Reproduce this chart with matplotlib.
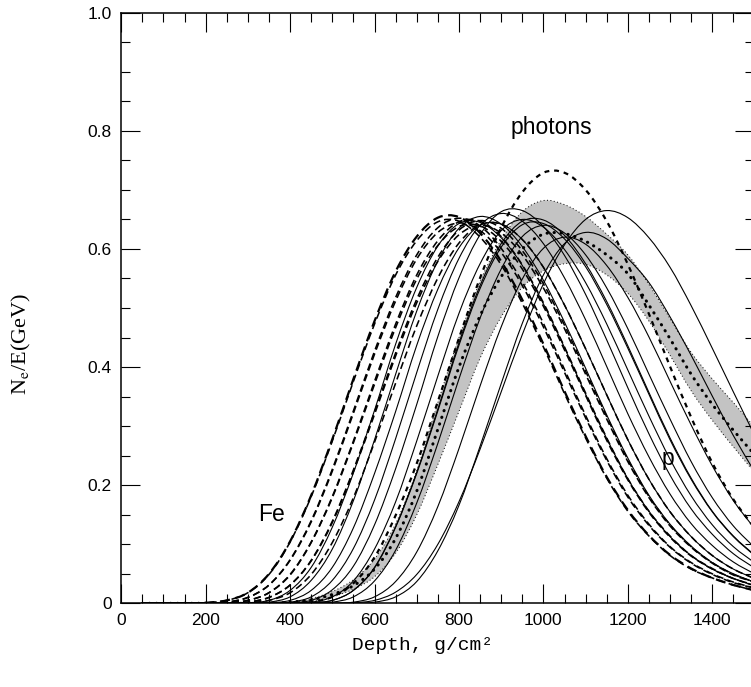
import matplotlib
matplotlib.use('Agg')
import matplotlib.pyplot as plt
from matplotlib.path import Path
from matplotlib.patches import PathPatch
from matplotlib.ticker import MultipleLocator, FixedLocator, FixedFormatter

plt.rcParams['mathtext.fontset'] = 'stix'

# depth grid, g/cm2
depth = [50, 100, 150, 200, 250, 300, 350, 400, 450, 500,
         550, 600, 650, 700, 750, 800, 850, 900, 950, 1000,
         1050, 1100, 1150, 1200, 1250, 1300, 1350, 1400, 1450, 1500]

# Fe showers (dashed)
fe_1 = [0, 0, 0, .001, .005, .018, .050, .105, .183, .278,
        .380, .478, .562, .621, .653, .654, .627, .579, .514, .439,
        .359, .283, .214, .158, .115, .082, .059, .043, .031, .022]
fe_2 = [0, 0, 0, 0, .002, .010, .031, .074, .140, .227,
        .326, .427, .518, .590, .636, .652, .639, .601, .544, .474,
        .396, .318, .245, .183, .134, .096, .069, .050, .036, .026]
fe_3 = [0, 0, 0, 0, .002, .010, .031, .073, .138, .224,
        .322, .422, .512, .583, .628, .644, .631, .594, .538, .468,
        .391, .314, .242, .180, .132, .095, .068, .049, .035, .026]
fe_4 = [0, 0, 0, 0, .001, .005, .018, .049, .104, .181,
        .275, .376, .473, .556, .614, .646, .647, .621, .573, .509,
        .434, .356, .280, .211, .156, .114, .081, .059, .042, .031]
fe_5 = [0, 0, 0, 0, .001, .005, .018, .048, .103, .179,
        .272, .371, .467, .549, .606, .638, .639, .613, .566, .503,
        .429, .352, .276, .209, .154, .112, .080, .058, .042, .030]
fe_6 = [0, 0, 0, 0, 0, .002, .010, .031, .073, .139,
        .226, .324, .424, .515, .586, .632, .648, .635, .597, .541,
        .471, .393, .316, .243, .181, .133, .096, .069, .049, .036]
fe_7 = [0, 0, 0, 0, 0, .002, .010, .031, .072, .137,
        .223, .320, .419, .509, .579, .624, .640, .627, .590, .534,
        .465, .388, .312, .240, .179, .131, .095, .068, .048, .036]
fe_8 = [0, 0, 0, 0, 0, .001, .005, .018, .049, .103,
        .179, .273, .373, .470, .551, .610, .641, .642, .616, .569,
        .505, .431, .353, .277, .210, .155, .113, .081, .058, .042]
fe_9 = [0, 0, 0, .001, .005, .018, .049, .104, .181, .275,
        .376, .473, .556, .614, .646, .647, .620, .573, .508, .434,
        .355, .280, .212, .156, .114, .081, .058, .043, .031, .022]

# proton showers (solid)
p_1 = [0, 0, 0, 0, 0, .001, .005, .022, .061, .129,
       .221, .327, .439, .535, .605, .643, .645, .619, .572, .507,
       .433, .354, .279, .211, .156, .113, .081, .058, .042, .030]
p_2 = [0, 0, 0, 0, 0, 0, .002, .011, .039, .092,
       .174, .277, .388, .495, .580, .635, .655, .642, .604, .547,
       .476, .398, .319, .246, .183, .134, .097, .069, .050, .036]
p_3 = [0, 0, 0, 0, 0, 0, .001, .005, .022, .061,
       .128, .220, .325, .437, .532, .602, .640, .642, .616, .569,
       .505, .431, .353, .277, .210, .155, .113, .081, .058, .042]
p_4 = [0, 0, 0, 0, 0, 0, 0, .002, .011, .039,
       .093, .175, .279, .391, .498, .584, .640, .660, .647, .609,
       .551, .480, .401, .321, .248, .185, .135, .098, .070, .050]
p_5 = [0, 0, 0, 0, 0, 0, 0, .001, .005, .023,
       .063, .133, .228, .337, .452, .551, .624, .663, .665, .638,
       .589, .523, .446, .365, .287, .217, .160, .117, .084, .060]
p_6 = [0, 0, 0, 0, 0, 0, 0, 0, .002, .011,
       .038, .092, .172, .275, .385, .491, .575, .631, .650, .637,
       .599, .543, .473, .395, .317, .244, .182, .133, .096, .069]
p_7 = [0, 0, 0, 0, 0, 0, 0, 0, .001, .005,
       .022, .061, .130, .222, .329, .441, .538, .609, .647, .649,
       .623, .575, .511, .436, .357, .280, .212, .156, .114, .082]
p_8 = [0, 0, 0, 0, 0, 0, 0, 0, .001, .005,
       .022, .060, .129, .220, .326, .437, .533, .603, .641, .643,
       .617, .570, .506, .432, .354, .277, .210, .155, .113, .081]
p_9 = [0, 0, 0, 0, 0, 0, 0, 0, 0, .002,
       .011, .038, .090, .170, .271, .380, .483, .566, .621, .640,
       .627, .590, .534, .465, .388, .312, .240, .179, .131, .095]
p_10 = [0, 0, 0, 0, 0, 0, 0, 0, 0, 0,
        .002, .011, .037, .087, .164, .262, .368, .468, .549, .601,
        .620, .608, .572, .518, .451, .376, .302, .233, .174, .127]
p_11 = [0, 0, 0, 0, 0, 0, 0, 0, 0, 0,
        0, .002, .011, .037, .089, .166, .266, .372, .474, .556,
        .609, .628, .617, .584, .543, .485, .420, .351, .284, .223]
p_12 = [0, 0, 0, 0, 0, 0, 0, 0, 0, 0,
        .001, .005, .019, .049, .100, .172, .261, .358, .455, .541,
        .607, .650, .665, .653, .619, .569, .504, .432, .358, .285]

# photon shower (short dashes)
photons = [0, 0, 0, 0, 0, 0, 0, 0, .002, .011,
           .034, .078, .149, .237, .342, .449, .551, .636, .696, .729,
           .729, .700, .647, .574, .490, .401, .315, .238, .176, .128]

# grey band and its mean (dotted)
band_mid = [0, 0, 0, 0, 0, 0, 0, .002, .006, .015,
            .030, .058, .110, .190, .295, .400, .487, .553, .600, .625,
            .626, .613, .590, .558, .505, .448, .388, .337, .293, .252]
band_hi = [0, 0, 0, 0, 0, 0, 0, 0, .008, .020,
           .040, .075, .135, .225, .340, .450, .545, .615, .663, .682,
           .675, .655, .625, .590, .540, .482, .425, .380, .340, .298]
band_lo = [0, 0, 0, 0, 0, 0, 0, .001, .004, .011,
           .024, .045, .085, .150, .235, .325, .415, .485, .535, .563,
           .575, .574, .556, .525, .478, .420, .360, .310, .265, .222]

fe_curves = [fe_1, fe_2, fe_3, fe_4, fe_5, fe_6, fe_7, fe_8, fe_9]
p_curves = [p_1, p_2, p_3, p_4, p_5, p_6, p_7, p_8, p_9, p_10, p_11, p_12]

x_ticks = [0, 200, 400, 600, 800, 1000, 1200, 1400]
y_ticks = [0, 0.2, 0.4, 0.6, 0.8, 1.0]
y_tick_labels = ['0', '0.2', '0.4', '0.6', '0.8', '1.0']


def bezier(xs, ys):
    # curva suave (Catmull-Rom) passando pelos pontos lidos
    pts = list(zip(xs, ys))
    n = len(pts)
    verts, codes = [pts[0]], [Path.MOVETO]
    for i in range(n - 1):
        p0, p1 = pts[max(i - 1, 0)], pts[i]
        p2, p3 = pts[i + 1], pts[min(i + 2, n - 1)]
        c1 = (p1[0] + (p2[0] - p0[0]) / 6, p1[1] + (p2[1] - p0[1]) / 6)
        c2 = (p2[0] - (p3[0] - p1[0]) / 6, p2[1] - (p3[1] - p1[1]) / 6)
        verts += [c1, c2, p2]
        codes += [Path.CURVE4] * 3
    return verts, codes


def curva(ax, ys, **kw):
    verts, codes = bezier(depth, ys)
    ax.add_patch(PathPatch(Path(verts, codes), fill=False, **kw))


fig = plt.figure(figsize=(7.51, 6.87), dpi=100)
ax = fig.add_axes([0.1615, 0.1218, 0.8431, 0.8597])

# banda cinza
v_hi, c_hi = bezier(depth, band_hi)
v_lo, c_lo = bezier(depth[::-1], band_lo[::-1])
banda = Path(v_hi + v_lo + [v_hi[0]],
             c_hi + [Path.LINETO] + c_lo[1:] + [Path.CLOSEPOLY])
ax.add_patch(PathPatch(banda, facecolor='#c3c3c3', edgecolor='none', zorder=1))
curva(ax, band_hi, color='k', lw=0.7, linestyle=(0, (1, 2.5)), zorder=2)
curva(ax, band_lo, color='k', lw=0.7, linestyle=(0, (1, 2.5)), zorder=2)

for y in p_curves:
    curva(ax, y, color='k', lw=0.8, zorder=3)

for i, y in enumerate(fe_curves):
    curva(ax, y, color='k', lw=1.6 if i == 0 else 1.15,
          linestyle=(0, (4.5, 2.5)), zorder=3)

curva(ax, photons, color='k', lw=1.6, linestyle=(0, (2.2, 2.2)), zorder=4)
curva(ax, band_mid, color='k', lw=2.2, linestyle=(0, (0.1, 2.2)),
      capstyle='round', zorder=4)

# rótulos
lab = dict(fontsize=16.5, family='Liberation Sans', ha='center', va='center')
ax.text(357, 0.150, 'Fe', **lab)
ax.text(1018, 0.805, 'photons', **lab)
ax.text(1295, 0.245, 'p', **lab)

ax.set_xlim(0, 1500)
ax.set_ylim(0, 1)
ax.xaxis.set_major_locator(FixedLocator(x_ticks))
ax.xaxis.set_minor_locator(MultipleLocator(50))
ax.yaxis.set_major_locator(FixedLocator(y_ticks))
ax.yaxis.set_major_formatter(FixedFormatter(y_tick_labels))
ax.yaxis.set_minor_locator(MultipleLocator(0.05))
ax.tick_params(which='both', direction='in', top=True, right=True,
               width=0.8, labelsize=12.5, pad=7)
ax.tick_params(which='major', length=13.7)
ax.tick_params(which='minor', length=6.8)
for t in ax.get_xticklabels() + ax.get_yticklabels():
    t.set_family('Liberation Sans')
for s in ax.spines.values():
    s.set_linewidth(1.1)

fig.text(0.029, 0.500, r'N$_\mathrm{e}$/E(GeV)', rotation=90,
         fontsize=16, family='Liberation Serif', ha='center', va='center')
fig.text(0.562, 0.060, 'Depth, g/cm²', fontsize=14,
         family='Liberation Mono', ha='center', va='center')

fig.savefig('out.png', dpi=100, facecolor='white')
